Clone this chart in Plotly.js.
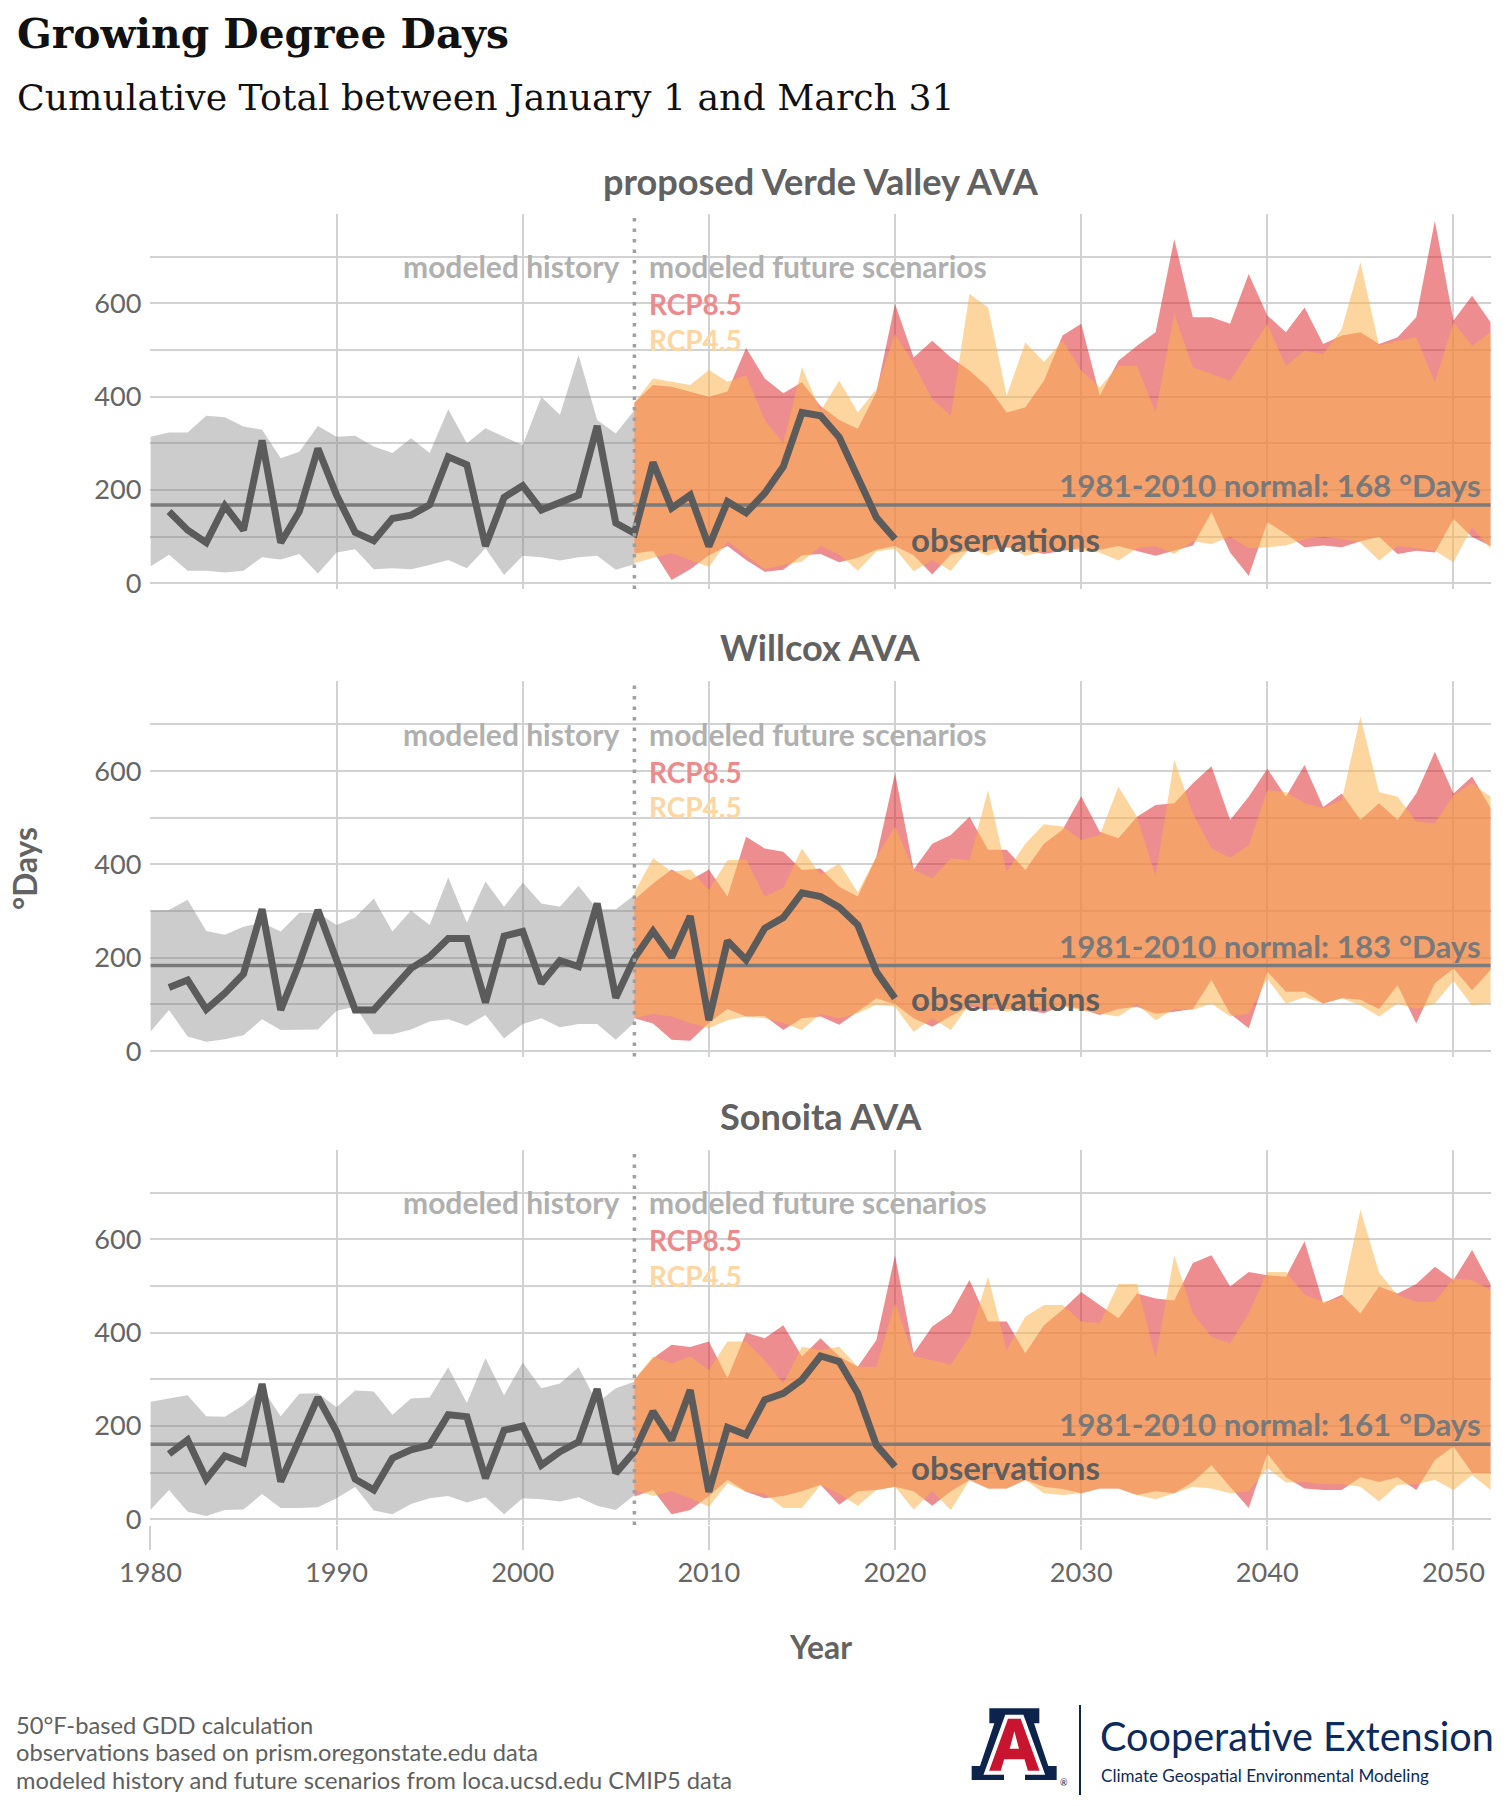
<!DOCTYPE html>
<html><head><meta charset="utf-8">
<script src="https://cdn.plot.ly/plotly-3.0.1.min.js"></script>
<style>html,body{margin:0;padding:0;background:#fff;} #chart{width:1506px;height:1806px;}</style>
</head><body><div id="chart"></div>
<script>
// ---------------- DATA ----------------
const histYears = [1980,1981,1982,1983,1984,1985,1986,1987,1988,1989,1990,1991,1992,1993,1994,1995,1996,1997,1998,1999,2000,2001,2002,2003,2004,2005,2006];
const obsYears = [1981,1982,1983,1984,1985,1986,1987,1988,1989,1990,1991,1992,1993,1994,1995,1996,1997,1998,1999,2000,2001,2002,2003,2004,2005,2006,2007,2008,2009,2010,2011,2012,2013,2014,2015,2016,2017,2018,2019,2020];
const futYears = [2006,2007,2008,2009,2010,2011,2012,2013,2014,2015,2016,2017,2018,2019,2020,2021,2022,2023,2024,2025,2026,2027,2028,2029,2030,2031,2032,2033,2034,2035,2036,2037,2038,2039,2040,2041,2042,2043,2044,2045,2046,2047,2048,2049,2050,2051,2052];

const panelNames = ['proposed Verde Valley AVA','Willcox AVA','Sonoita AVA'];
const normals = [168,183,161];

const xTickVals = [1980,1990,2000,2010,2020,2030,2040,2050];
const xTickText = ['1980','1990','2000','2010','2020','2030','2040','2050'];
const yTickVals = [0,100,200,300,400,500,600,700];
const yTickText = ['0','','200','','400','','600',''];

// proposed Verde Valley AVA
const verdeHistHi = [314,323,323,359,356,336,329,268,282,337,314,316,293,279,311,279,373,300,332,314,296,399,361,489,350,321,371];
const verdeHistLo = [36,61,27,27,23,27,56,51,63,21,66,73,30,32,30,39,50,32,75,18,59,56,49,56,59,29,41];
const verdeObs = [154,114,87,166,114,306,87,154,289,189,109,91,139,146,168,271,254,80,184,209,157,175,189,337,129,107,259,161,189,79,175,151,193,250,366,359,313,227,141,95];
const verde85Hi = [387,425,421,411,400,411,504,439,407,431,380,350,331,410,599,484,520,484,456,420,366,377,434,531,556,402,477,509,538,738,570,570,556,663,574,538,591,513,531,538,513,527,570,777,563,616,559];
const verde85Lo = [64,70,7,30,60,80,50,25,29,60,63,45,55,72,80,60,19,62,71,70,77,72,63,70,75,72,80,69,59,70,81,152,66,16,131,106,77,81,77,90,100,63,70,66,138,99,80];
const verde45Hi = [387,439,432,425,457,432,446,350,300,463,370,434,366,416,534,470,395,359,620,591,402,516,474,520,456,420,466,466,366,577,463,449,434,495,556,466,499,491,545,688,509,520,527,431,559,509,538];
const verde45Lo = [43,55,65,50,35,90,60,30,40,46,80,62,27,68,74,26,50,27,75,59,80,59,68,75,70,66,49,75,80,63,90,84,100,75,77,81,95,100,95,88,49,80,75,70,45,120,74];

// Willcox AVA
const willHistHi = [301,302,324,257,249,266,275,256,296,296,270,286,327,256,301,270,372,275,363,309,361,316,309,354,304,304,334];
const willHistLo = [41,88,31,20,25,34,68,45,46,46,86,95,36,36,46,63,68,54,77,27,58,70,51,58,58,24,61];
const willObs = [136,152,89,124,165,304,88,188,302,195,88,88,134,177,202,241,241,104,246,256,145,194,181,316,114,199,257,201,289,66,236,195,263,286,339,331,308,270,170,113];
const will85Hi = [324,359,389,366,389,331,459,434,427,388,391,352,331,416,595,389,444,463,502,431,431,388,444,474,546,470,456,502,527,531,574,610,495,545,605,545,613,523,552,495,531,495,552,641,552,588,520];
const will85Lo = [70,59,24,22,60,90,74,75,45,70,74,56,85,113,100,70,52,75,95,88,90,88,81,98,90,77,90,95,80,84,90,152,80,49,170,127,127,102,113,110,90,141,59,145,177,130,174];
const will45Hi = [340,413,384,389,345,409,411,331,350,434,377,402,340,416,481,388,370,413,409,559,384,444,486,481,452,463,566,502,374,624,509,434,414,441,559,555,531,520,538,716,555,545,491,488,548,573,545];
const will45Lo = [70,80,74,60,49,66,74,70,60,45,80,70,81,99,95,41,70,45,100,95,84,92,90,95,88,80,74,100,66,90,88,102,74,80,155,102,115,102,113,98,74,102,90,102,150,98,102];

// Sonoita AVA
const sonHistHi = [252,259,266,221,220,245,281,221,269,270,240,276,274,224,259,261,326,249,345,266,336,281,291,326,249,281,295];
const sonHistLo = [20,63,16,7,20,21,54,24,24,26,45,69,19,11,33,45,50,36,47,11,45,43,38,47,29,20,52];
const sonObs = [140,170,86,136,121,290,81,170,261,188,86,63,131,149,159,224,220,88,191,200,116,145,166,279,99,145,231,170,277,59,197,181,256,270,299,350,338,270,159,113];
const son85Hi = [299,345,374,369,381,302,400,388,416,349,388,349,327,384,566,356,413,441,513,424,424,356,416,449,487,459,431,484,473,469,549,566,499,530,523,520,596,463,481,441,499,484,504,541,513,577,503];
const son85Lo = [49,63,11,20,50,85,59,45,50,60,74,31,60,63,70,60,29,60,84,66,66,84,70,65,56,66,66,52,60,56,80,116,70,24,141,90,66,63,63,90,80,90,63,127,156,100,99];
const son45Hi = [299,349,334,349,320,381,381,341,291,370,363,370,327,327,463,350,341,331,391,520,363,434,459,459,424,420,504,504,345,566,441,391,377,441,530,530,481,466,475,663,529,480,466,466,516,513,491];
const son45Lo = [63,50,60,45,27,77,59,55,24,24,74,55,29,63,70,21,60,20,84,66,66,84,56,52,56,66,66,52,43,56,70,66,56,60,110,79,80,75,75,70,38,74,75,85,63,95,63];

// ---------------- BUILD ----------------
const W = 1506, H = 1806;
const px = x => x / W, py = y => 1 - y / H;
const SANS = 'Lato';
const SERIF = 'DejaVu Serif';
const cv = document.createElement('canvas').getContext('2d');
function fit(t, fam, wt, target) { cv.font = wt + ' 100px "' + fam + '"'; return 100 * target / cv.measureText(t).width; }

const GRID = '#d2d2d2';
const panels = [
  {name: panelNames[0], normal: normals[0], hHi: verdeHistHi, hLo: verdeHistLo, obs: verdeObs, r85Hi: verde85Hi, r85Lo: verde85Lo, r45Hi: verde45Hi, r45Lo: verde45Lo},
  {name: panelNames[1], normal: normals[1], hHi: willHistHi, hLo: willHistLo, obs: willObs, r85Hi: will85Hi, r85Lo: will85Lo, r45Hi: will45Hi, r45Lo: will45Lo},
  {name: panelNames[2], normal: normals[2], hHi: sonHistHi, hLo: sonHistLo, obs: sonObs, r85Hi: son85Hi, r85Lo: son85Lo, r45Hi: son45Hi, r45Lo: son45Lo}
];
const xDom = [px(150.4), px(1490.7)];
const yPix = [[213.7, 588.9], [681.4, 1056.6], [1149.7, 1524.9]];
const titleY = [181, 647, 1115.7];
const yRange = [-12, 792];
const xRange = [histYears[0], futYears[futYears.length - 1]];

function poly(xs, hi, lo) { return {x: xs.concat(xs.slice().reverse()), y: hi.concat(lo.slice().reverse())}; }

const tickSize = fit('1980', SANS, 'normal', 63);
const annSize = Math.min(30, fit('modeled history', SANS, 'bold', 239));
const rcpSize = Math.min(28, fit('RCP8.5', SANS, 'bold', 102));
const normSize = fit('1981-2010 normal: 168 °Days', SANS, 'bold', 422);
const obsSize = fit('observations', SANS, 'bold', 189);
const ptSize = fit(panelNames[0], SANS, 'bold', 440);

const traces = [];
const layout = {
  width: W, height: H, margin: {l: 0, r: 0, t: 0, b: 0},
  paper_bgcolor: '#fff', plot_bgcolor: 'rgba(0,0,0,0)', showlegend: false,
  annotations: [], shapes: []
};

panels.forEach((p, i) => {
  const s = i === 0 ? '' : String(i + 1);
  const xa = 'x' + s, ya = 'y' + s;
  const g = poly(histYears, p.hHi, p.hLo);
  traces.push({type: 'scatter', mode: 'lines', x: g.x, y: g.y, fill: 'toself', fillcolor: 'rgba(128,128,128,0.4)', line: {width: 0}, xaxis: xa, yaxis: ya, hoverinfo: 'skip'});
  const r = poly(futYears, p.r85Hi, p.r85Lo);
  traces.push({type: 'scatter', mode: 'lines', x: r.x, y: r.y, fill: 'toself', fillcolor: 'rgba(220,37,40,0.52)', line: {width: 0}, xaxis: xa, yaxis: ya, hoverinfo: 'skip'});
  const o = poly(futYears, p.r45Hi, p.r45Lo);
  traces.push({type: 'scatter', mode: 'lines', x: o.x, y: o.y, fill: 'toself', fillcolor: 'rgba(251,178,80,0.55)', line: {width: 0}, xaxis: xa, yaxis: ya, hoverinfo: 'skip'});
  traces.push({type: 'scatter', mode: 'lines', x: xRange, y: [p.normal, p.normal], line: {color: '#7b7b7b', width: 3.5}, xaxis: xa, yaxis: ya, hoverinfo: 'skip'});
  traces.push({type: 'scatter', mode: 'lines', x: obsYears, y: p.obs, line: {color: '#5b5b5b', width: 7}, xaxis: xa, yaxis: ya, hoverinfo: 'skip'});

  layout['xaxis' + s] = {domain: xDom, range: xRange, anchor: ya, tickvals: xTickVals, ticktext: xTickText,
    showticklabels: i === 2, showgrid: true, gridcolor: GRID, gridwidth: 2, zeroline: false, showline: false,
    ticks: i === 2 ? 'outside' : '', ticklen: 24, tickcolor: GRID, tickwidth: 2,
    tickfont: {family: SANS, size: tickSize, color: '#666'}, fixedrange: true};
  layout['yaxis' + s] = {domain: [py(yPix[i][1]), py(yPix[i][0])], range: yRange, anchor: xa,
    tickvals: yTickVals, ticktext: yTickText, showgrid: true, gridcolor: GRID, gridwidth: 2, zeroline: false, showline: false,
    ticks: '', ticklabelstandoff: 8, tickfont: {family: SANS, size: tickSize, color: '#666'}, fixedrange: true};

  layout.shapes.push({type: 'line', xref: xa, yref: ya + ' domain', x0: futYears[0], x1: futYears[0], y0: 0, y1: 1,
    line: {color: '#a0a0a0', width: 3.5, dash: '3.5px,7px'}, layer: 'above'});

  const A = (o) => layout.annotations.push(Object.assign({showarrow: false, xref: xa, yref: ya}, o));
  A({x: futYears[0], y: 679, xanchor: 'right', xshift: -13, text: '<b>modeled history</b>', font: {family: SANS, size: annSize, color: '#b0b0b0'}});
  A({x: futYears[0], y: 679, xanchor: 'left', xshift: 13, text: '<b>modeled future scenarios</b>', font: {family: SANS, size: annSize, color: '#b0b0b0'}});
  A({x: futYears[0], y: 598, xanchor: 'left', xshift: 13, text: '<b>RCP8.5</b>', font: {family: SANS, size: rcpSize, color: '#ec8a8c'}});
  A({x: futYears[0], y: 522, xanchor: 'left', xshift: 13, text: '<b>RCP4.5</b>', font: {family: SANS, size: rcpSize, color: '#fdd6a2'}});
  A({x: xRange[1], y: p.normal, xanchor: 'right', yanchor: 'middle', xshift: -8, yshift: 20,
     text: '<b>1981-2010 normal: ' + p.normal + ' °Days</b>', font: {family: SANS, size: normSize, color: '#797979'}});
  A({x: obsYears[obsYears.length - 1], y: p.obs[p.obs.length - 1], xanchor: 'left', yanchor: 'middle', xshift: 14,
     text: '<b>observations</b>', font: {family: SANS, size: obsSize, color: '#5e5e5e'}});
  layout.annotations.push({showarrow: false, xref: 'paper', yref: 'paper', x: (xDom[0] + xDom[1]) / 2, y: py(titleY[i]),
    xanchor: 'center', yanchor: 'middle', text: '<b>' + p.name + '</b>', font: {family: SANS, size: ptSize, color: '#616161'}});
});

// titles and texts
const P = (o) => layout.annotations.push(Object.assign({showarrow: false, xref: 'paper', yref: 'paper'}, o));
P({x: px(15), y: py(34), xanchor: 'left', yanchor: 'middle', text: '<b>Growing Degree Days</b>',
   font: {family: SERIF, size: fit('Growing Degree Days', SERIF, 'bold', 492), color: '#111'}});
P({x: px(15), y: py(97), xanchor: 'left', yanchor: 'middle', text: 'Cumulative Total between January 1 and March 31',
   font: {family: SERIF, size: fit('Cumulative Total between January 1 and March 31', SERIF, 'normal', 938), color: '#111'}});
P({x: px(25), y: py(869), xanchor: 'center', yanchor: 'middle', textangle: -90, text: '<b>°Days</b>',
   font: {family: SANS, size: fit('°Days', SANS, 'bold', 83), color: '#636363'}});
P({x: px(820.5), y: py(1647), xanchor: 'center', yanchor: 'middle', text: '<b>Year</b>',
   font: {family: SANS, size: fit('Year', SANS, 'bold', 62), color: '#636363'}});
const foot = ['50°F-based GDD calculation', 'observations based on prism.oregonstate.edu data', 'modeled history and future scenarios from loca.ucsd.edu CMIP5 data'];
const footSize = fit(foot[2], SANS, 'normal', 717);
[1725, 1752, 1780].forEach((yy, k) => P({x: px(14), y: py(yy), xanchor: 'left', yanchor: 'middle', height: 24, text: foot[k],
   font: {family: SANS, size: footSize, color: '#606060'}}));
P({x: px(1098), y: py(1735), xanchor: 'left', yanchor: 'middle', text: 'Cooperative Extension',
   font: {family: SANS, size: fit('Cooperative Extension', SANS, 'normal', 394), color: '#0c2a5c'}});
P({x: px(1099), y: py(1775), xanchor: 'left', yanchor: 'middle', text: 'Climate Geospatial Environmental Modeling',
   font: {family: SANS, size: fit('Climate Geospatial Environmental Modeling', SANS, 'normal', 328), color: '#0c2a5c'}});
P({x: px(1064), y: py(1782), xanchor: 'center', yanchor: 'middle', text: '®', font: {family: SANS, size: 9, color: '#0c234b'}});

// logo (decorative shapes)
const LX = 960, LY = 1660;
function lp(pts) { return 'M' + pts.map(q => px(LX + q[0] / 3).toFixed(5) + ',' + py(LY + q[1] / 3).toFixed(5)).join('L') + 'Z'; }
const navyPts = [[88,145],[238,145],[238,190],[222,190],[265,318],[290,318],[290,360],[195,360],[195,318],[205,318],[196,296],[130,296],[121,318],[132,318],[132,360],[35,360],[35,318],[60,318],[103,190],[88,190]];
const redPts = [[140,170],[186,170],[247,338],[199,338],[189,304],[137,304],[127,338],[79,338]];
const holePts = [[149,266],[177,266],[163,214]];
layout.shapes.push({type: 'path', xref: 'paper', yref: 'paper', path: lp(navyPts), fillcolor: '#0c234b', line: {width: 0}, layer: 'above'});
layout.shapes.push({type: 'path', xref: 'paper', yref: 'paper', path: lp(redPts), fillcolor: '#c8142f', line: {color: '#ffffff', width: 4}, layer: 'above'});
layout.shapes.push({type: 'path', xref: 'paper', yref: 'paper', path: lp(holePts), fillcolor: '#ffffff', line: {width: 0}, layer: 'above'});
layout.shapes.push({type: 'line', xref: 'paper', yref: 'paper', x0: px(1080), x1: px(1080), y0: py(1705), y1: py(1795), line: {color: '#0c234b', width: 2}, layer: 'above'});

Plotly.newPlot('chart', traces, layout, {displayModeBar: false, staticPlot: true});
</script>
</body></html>
